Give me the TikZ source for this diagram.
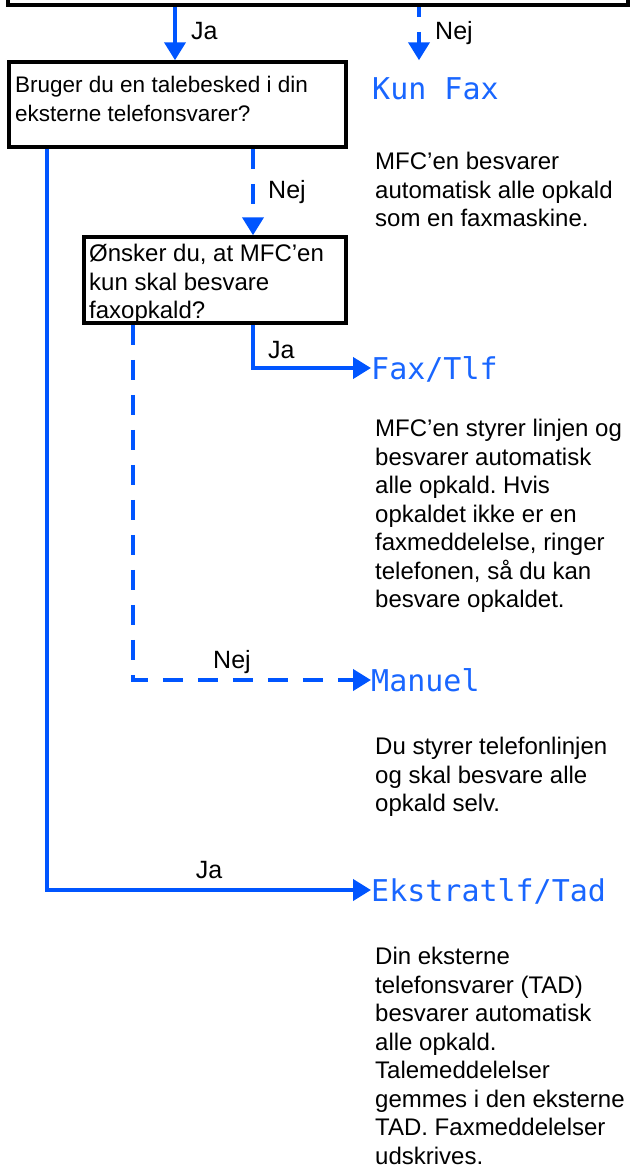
\documentclass[tikz,border=0pt]{standalone}
\usepackage{fontspec}
\setmainfont{Liberation Sans}
\newfontfamily\lcdfont{DejaVu Sans Mono}
\usetikzlibrary{arrows.meta}
\definecolor{lcdblue}{RGB}{0,85,255}
\frenchspacing
\begin{document}
\begin{tikzpicture}[x=1pt,y=-1pt,
  every node/.style={font=\fontsize{24}{28.5}\selectfont},
  qbox/.style={draw=black, line width=3.5pt, inner sep=0pt},
  qtext/.style={anchor=north west, align=left, inner sep=0pt},
  para/.style={anchor=north west, align=left, inner sep=0pt},
  lcd/.style={anchor=west, inner sep=0pt, text=lcdblue!90, text height=22pt, text depth=0pt, font=\lcdfont\fontsize{30}{30}\selectfont},
  lbl/.style={anchor=base west, inner sep=0pt, font=\fontsize{25}{28}\selectfont},
  arr/.style={draw=lcdblue, line width=4pt, -{Triangle[length=18pt,width=21pt]}},
  dashline/.style={dash pattern=on 20pt off 15pt}
]
\useasboundingbox (0,0) rectangle (637,1167);
% top box (only its bottom part is visible)
\node[qbox, minimum width=620pt, minimum height=80pt] (top) at (318,-35) {};
% question boxes
\node[qbox, minimum width=337pt, minimum height=85pt] (q1) at (177.5,104.5) {};
\node[qtext, font=\fontsize{22.5}{28.5}\selectfont] (q1t) at (15,76) {Bruger du en talebesked i din\\eksterne telefonsvarer?};
\node[qbox, minimum width=262pt, minimum height=86pt] (q2) at (215,280) {};
\node[qtext] (q2t) at (89,244) {Ønsker du, at MFC’en\\kun skal besvare\\faxopkald?};
% results
\node[lcd] (kun) at (372,88) {Kun Fax};
\node[para] (p1) at (375,152) {MFC’en besvarer\\automatisk alle opkald\\som en faxmaskine.};
\node[lcd] (faxtlf) at (371,368) {Fax/Tlf};
\node[para] (p2) at (375,419) {MFC’en styrer linjen og\\besvarer automatisk\\alle opkald. Hvis\\opkaldet ikke er en\\faxmeddelelse, ringer\\telefonen, så du kan\\besvare opkaldet.};
\node[lcd] (manuel) at (371,680) {Manuel};
\node[para] (p3) at (375,737) {Du styrer telefonlinjen\\og skal besvare alle\\opkald selv.};
\node[lcd] (ekstra) at (371,890) {Ekstratlf/Tad};
\node[para] (p4) at (375,947) {Din eksterne\\telefonsvarer (TAD)\\besvarer automatisk\\alle opkald.\\Talemeddelelser\\gemmes i den eksterne\\TAD. Faxmeddelelser\\udskrives.};
% connector x positions
\coordinate (cA) at (175,0);
\coordinate (cB) at (419,0);
\coordinate (cC) at (253,0);
\coordinate (cD) at (133,0);
\coordinate (cE) at (47,0);
% connectors
\draw[arr] (top.south -| cA) -- (q1.north -| cA);
\draw[arr, dashline, dash phase=10pt] (top.south -| cB) -- (q1.north -| cB);
\draw[arr, dashline] (q1.south -| cC) -- (q2.north -| cC);
\draw[arr] (q2.south -| cC) |- (faxtlf.west);
\draw[arr, dashline] (q2.south -| cD) |- (manuel.west);
\draw[arr] (q1.south -| cE) |- (ekstra.west);
% labels
\node[lbl] (l1) at (191,39) {Ja};
\node[lbl] (l2) at (435,39) {Nej};
\node[lbl] (l3) at (268,198) {Nej};
\node[lbl] (l4) at (268,358) {Ja};
\node[lbl, anchor=base] (l5) at (232,668) {Nej};
\node[lbl, anchor=base] (l6) at (209,878) {Ja};
\end{tikzpicture}
\end{document}
